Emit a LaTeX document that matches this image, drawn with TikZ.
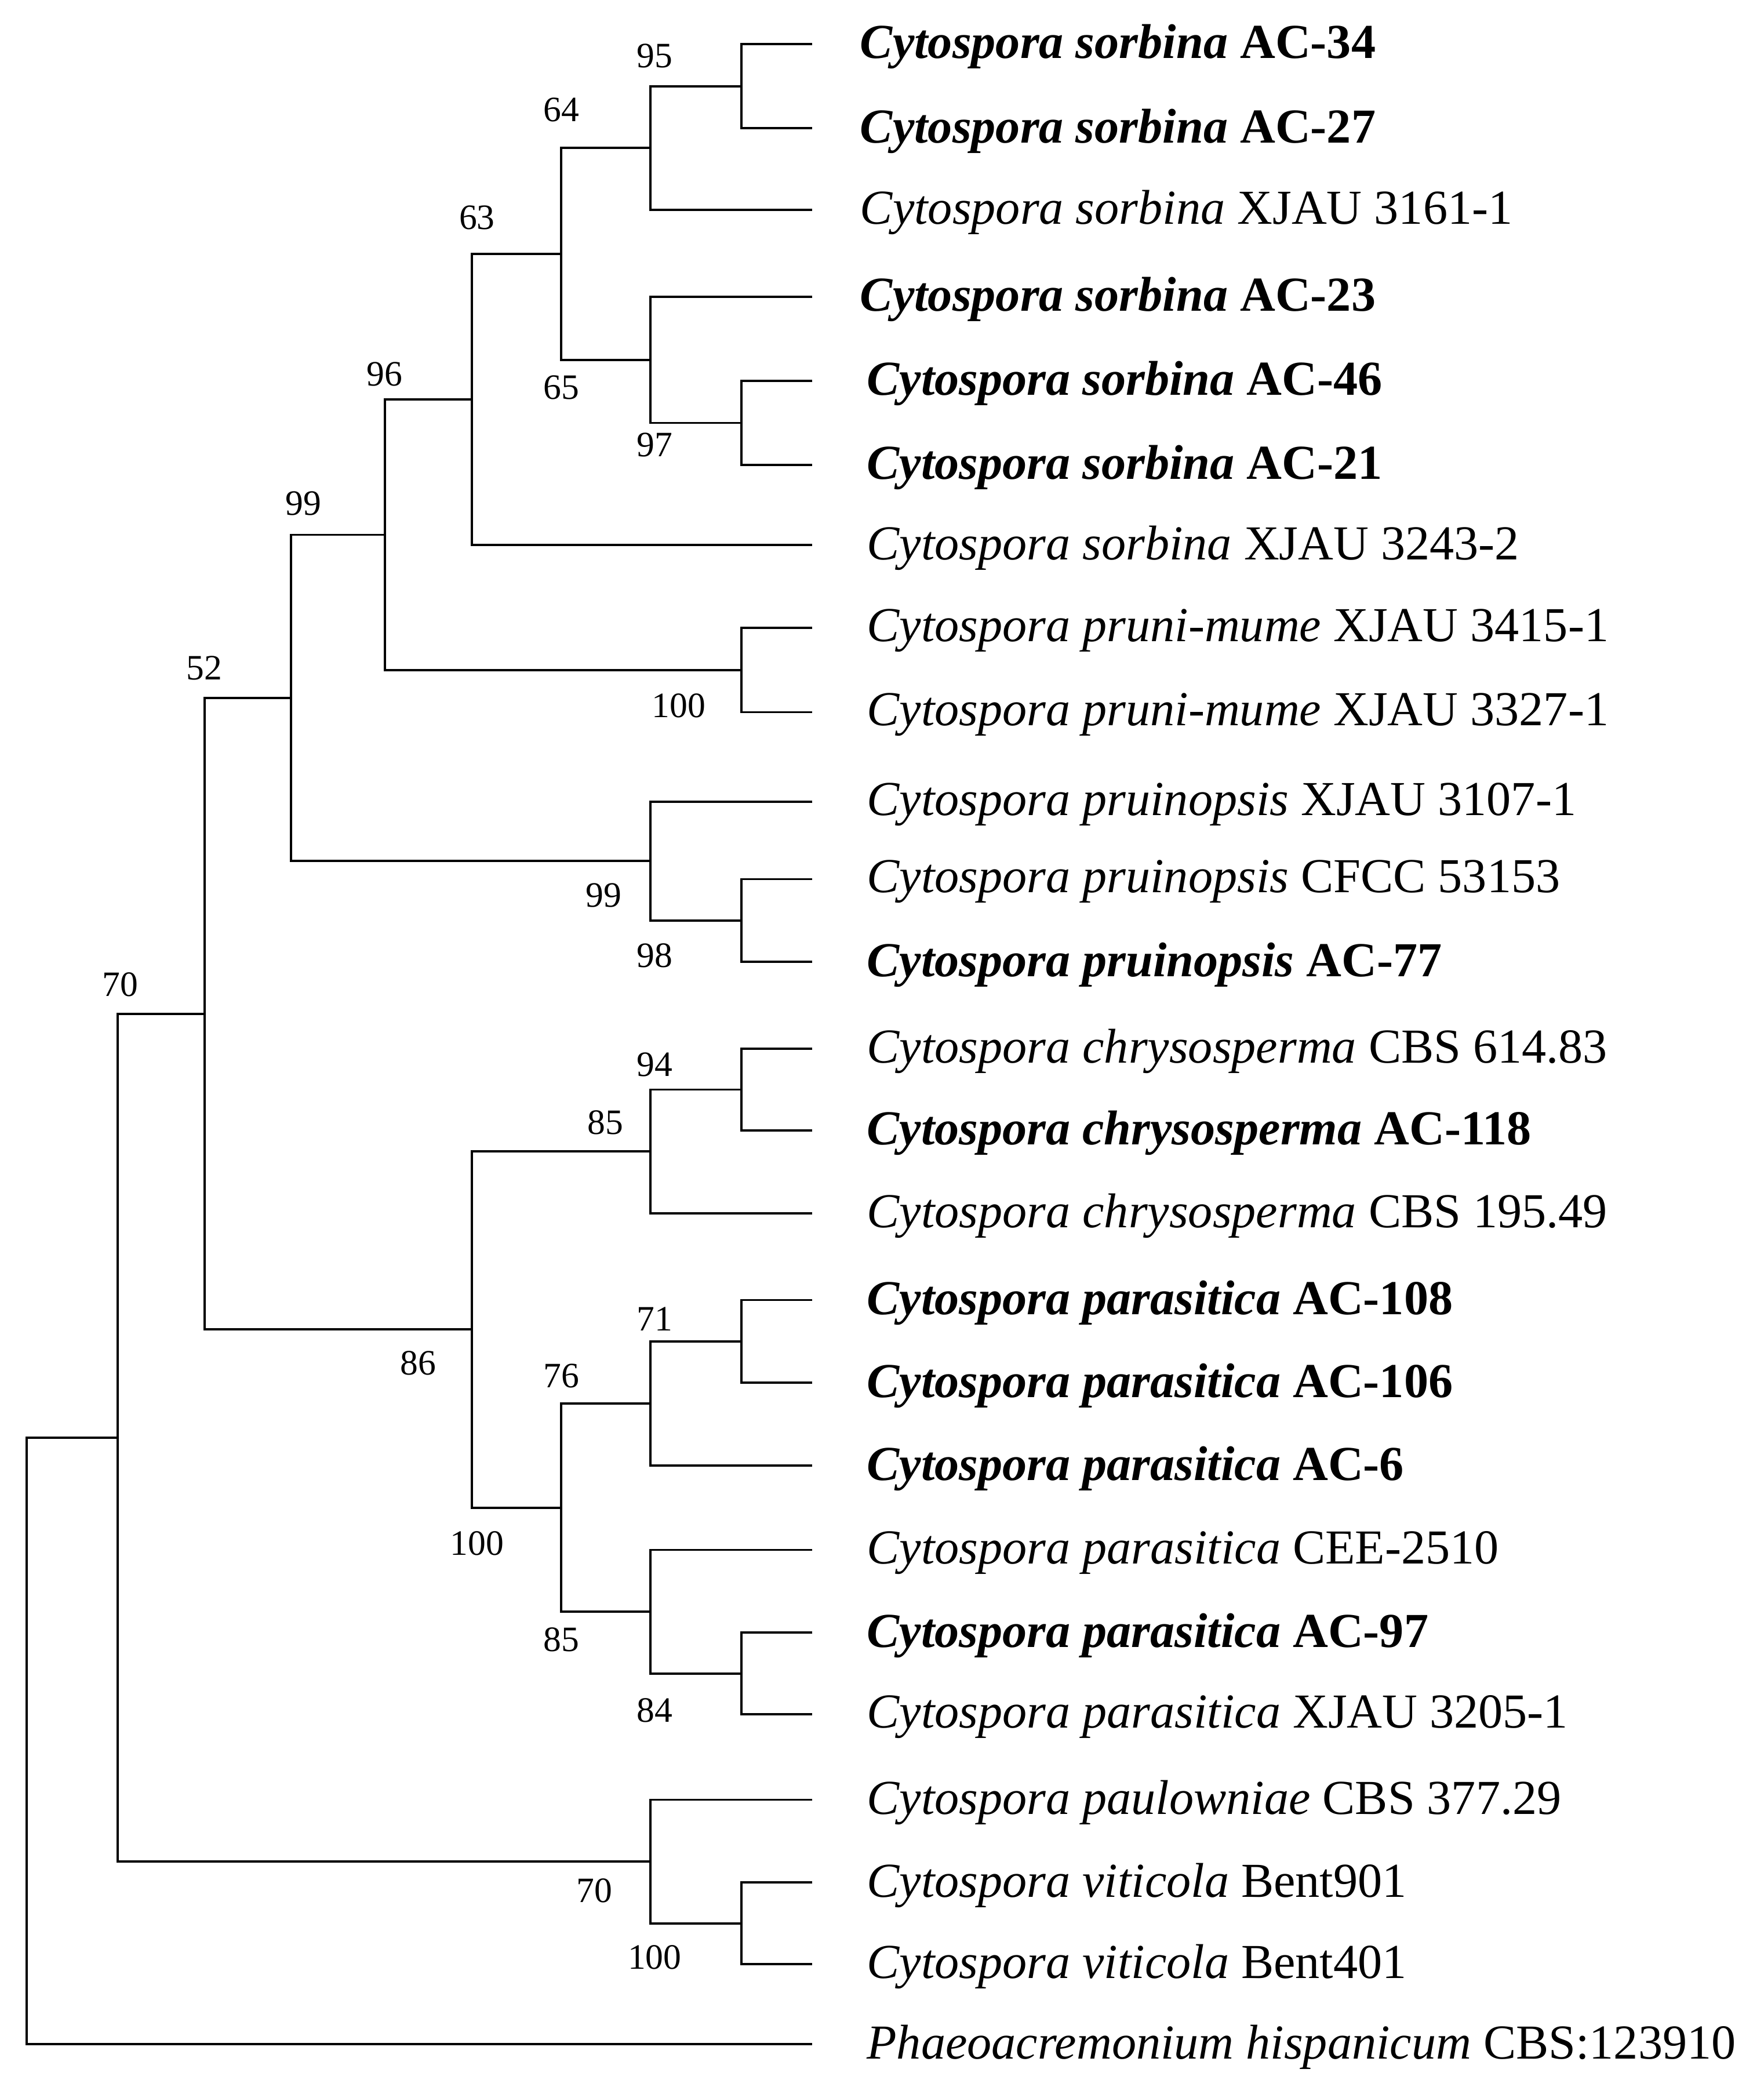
\documentclass[tikz,border=0pt]{standalone}
\usepackage{fontspec}
\setmainfont{Liberation Serif}
\begin{document}
\begin{tikzpicture}[x=0.05cm,y=-0.05cm,line width=2.4pt,
  leaf/.style={anchor=west,inner sep=0pt,font=\fontsize{52}{54}\selectfont},
  bs/.style={inner sep=0pt,font=\fontsize{38}{40}\selectfont}]
\useasboundingbox (0,0) rectangle (1320,1562);
% leaves
\foreach \i/\y in {1/33,2/96,3/157,4/222,5/285,6/348,7/408,8/470,9/533,10/600,11/658,12/720,13/785,14/846,15/908,16/973,17/1035,18/1097,19/1160,20/1222,21/1283,22/1347,23/1409,24/1470,25/1530}
  \coordinate (L\i) at (608,\y);
\node[leaf] (T1) at (643,35) {\textbf{\textit{Cytospora sorbina} AC-34}};
\node[leaf] (T2) at (643,98) {\textbf{\textit{Cytospora sorbina} AC-27}};
\node[leaf] (T3) at (643,159) {\textit{Cytospora sorbina} XJAU 3161-1};
\node[leaf] (T4) at (643,224) {\textbf{\textit{Cytospora sorbina} AC-23}};
\node[leaf] (T5) at (648,287) {\textbf{\textit{Cytospora sorbina} AC-46}};
\node[leaf] (T6) at (648,350) {\textbf{\textit{Cytospora sorbina} AC-21}};
\node[leaf] (T7) at (648,410) {\textit{Cytospora sorbina} XJAU 3243-2};
\node[leaf] (T8) at (648,472) {\textit{Cytospora pruni-mume} XJAU 3415-1};
\node[leaf] (T9) at (648,535) {\textit{Cytospora pruni-mume} XJAU 3327-1};
\node[leaf] (T10) at (648,602) {\textit{Cytospora pruinopsis} XJAU 3107-1};
\node[leaf] (T11) at (648,660) {\textit{Cytospora pruinopsis} CFCC 53153};
\node[leaf] (T12) at (648,722) {\textbf{\textit{Cytospora pruinopsis} AC-77}};
\node[leaf] (T13) at (648,787) {\textit{Cytospora chrysosperma} CBS 614.83};
\node[leaf] (T14) at (648,848) {\textbf{\textit{Cytospora chrysosperma} AC-118}};
\node[leaf] (T15) at (648,910) {\textit{Cytospora chrysosperma} CBS 195.49};
\node[leaf] (T16) at (648,975) {\textbf{\textit{Cytospora parasitica} AC-108}};
\node[leaf] (T17) at (648,1037) {\textbf{\textit{Cytospora parasitica} AC-106}};
\node[leaf] (T18) at (648,1099) {\textbf{\textit{Cytospora parasitica} AC-6}};
\node[leaf] (T19) at (648,1162) {\textit{Cytospora parasitica} CEE-2510};
\node[leaf] (T20) at (648,1224) {\textbf{\textit{Cytospora parasitica} AC-97}};
\node[leaf] (T21) at (648,1285) {\textit{Cytospora parasitica} XJAU 3205-1};
\node[leaf] (T22) at (648,1349) {\textit{Cytospora paulowniae} CBS 377.29};
\node[leaf] (T23) at (648,1411) {\textit{Cytospora viticola} Bent901};
\node[leaf] (T24) at (648,1472) {\textit{Cytospora viticola} Bent401};
\node[leaf] (T25) at (648,1532) {\textit{Phaeoacremonium hispanicum} CBS:123910};
% internal nodes
\coordinate (a) at (555,64.5);
\coordinate (b) at (487,110.75);
\coordinate (c) at (555,316.5);
\coordinate (d) at (487,269.25);
\coordinate (e) at (420,190);
\coordinate (f) at (353,299);
\coordinate (g) at (555,501.5);
\coordinate (h) at (288,400.25);
\coordinate (i) at (555,689);
\coordinate (j) at (487,644.5);
\coordinate (k) at (218,522.4);
\coordinate (l) at (555,815.5);
\coordinate (m) at (487,861.75);
\coordinate (n) at (555,1004);
\coordinate (o) at (487,1050.5);
\coordinate (p) at (555,1252.5);
\coordinate (q) at (487,1206.25);
\coordinate (r) at (420,1128.4);
\coordinate (s) at (353,995);
\coordinate (t) at (153,758.7);
\coordinate (u) at (555,1439.5);
\coordinate (v) at (487,1393.25);
\coordinate (w) at (88,1076);
\coordinate (z) at (20,1303);
\draw (L1) -| (a) |- (L2);
\draw (a) -| (b) |- (L3);
\draw (L5) -| (c) |- (L6);
\draw (L4) -| (d) |- (c);
\draw (b) -| (e) |- (d);
\draw (e) -| (f) |- (L7);
\draw (L8) -| (g) |- (L9);
\draw (f) -| (h) |- (g);
\draw (L11) -| (i) |- (L12);
\draw (L10) -| (j) |- (i);
\draw (h) -| (k) |- (j);
\draw (L13) -| (l) |- (L14);
\draw (l) -| (m) |- (L15);
\draw (L16) -| (n) |- (L17);
\draw (n) -| (o) |- (L18);
\draw (L20) -| (p) |- (L21);
\draw (L19) -| (q) |- (p);
\draw (o) -| (r) |- (q);
\draw (m) -| (s) |- (r);
\draw (k) -| (t) |- (s);
\draw (L23) -| (u) |- (L24);
\draw (L22) -| (v) |- (u);
\draw (t) -| (w) |- (v);
\draw (w) -| (z) |- (L25);
% bootstrap
\node[bs] (ba) at (490,42) {95};
\node[bs] (bb) at (420,82) {64};
\node[bs] (bc) at (490,333) {97};
\node[bs] (bd) at (420,290) {65};
\node[bs] (be) at (357,163) {63};
\node[bs] (bf) at (288,280) {96};
\node[bs] (bg) at (508,528) {100};
\node[bs] (bh) at (227,377) {99};
\node[bs] (bi) at (490,715) {98};
\node[bs] (bj) at (452,670) {99};
\node[bs] (bk) at (153,500) {52};
\node[bs] (bl) at (490,797) {94};
\node[bs] (bm) at (453,840) {85};
\node[bs] (bn) at (490,987) {71};
\node[bs] (bo) at (420,1030) {76};
\node[bs] (bp) at (490,1280) {84};
\node[bs] (bq) at (420,1227) {85};
\node[bs] (br) at (357,1155) {100};
\node[bs] (bs) at (313,1020) {86};
\node[bs] (bt) at (90,737) {70};
\node[bs] (bu) at (490,1465) {100};
\node[bs] (bv) at (445,1415) {70};
\end{tikzpicture}
\end{document}
